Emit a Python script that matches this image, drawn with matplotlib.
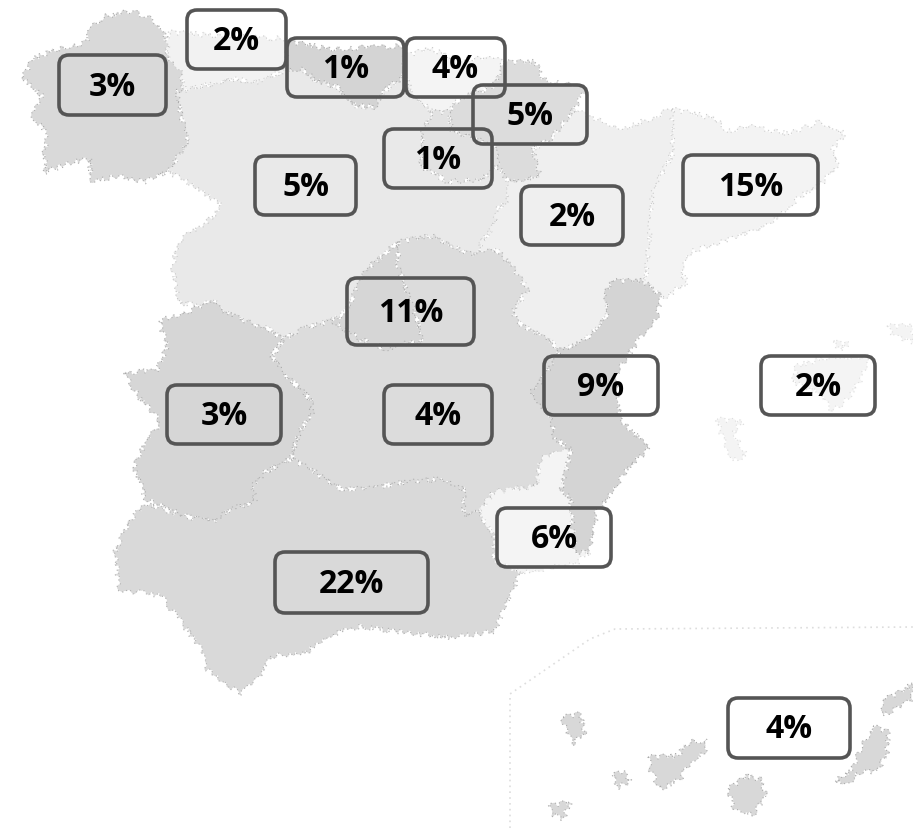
import matplotlib
matplotlib.use("Agg")
import matplotlib.pyplot as plt
from matplotlib.patches import FancyBboxPatch

# outlines, in image pixels
galicia = [(23,78),(33,60),(57,50),(88,43),(90,30),(103,18),(132,12),(153,20),(165,33),(168,57),(180,70),(184,90),(176,93),(187,143),(168,173),(145,183),(115,177),(92,183),(90,167),(92,160),(73,163),(46,173),(44,157),(48,137),(33,117),(42,97)]
asturias = [(168,33),(193,35),(240,38),(287,40),(287,70),(260,83),(230,80),(199,88),(184,90),(180,70),(168,57)]
cantabria = [(287,42),(329,50),(383,48),(404,47),(404,77),(383,93),(375,108),(356,107),(337,88),(314,80),(302,70),(287,70)]
pais_vasco = [(404,57),(429,50),(459,60),(498,60),(505,67),(494,87),(459,100),(448,113),(432,113),(417,100),(404,77)]
navarra = [(505,63),(536,63),(543,80),(586,90),(574,110),(551,140),(532,150),(540,177),(509,183),(498,167),(494,147),(471,137),(452,133),(448,113),(459,100),(494,87)]
la_rioja = [(432,113),(448,113),(452,133),(471,137),(494,147),(498,167),(482,180),(448,183),(421,167),(423,133)]
castilla_leon = [(176,93),(199,88),(230,80),(260,83),(287,70),(302,70),(314,80),(337,88),(356,107),(375,108),(383,93),(404,77),(417,100),(432,113),(423,133),(421,167),(448,183),(482,180),(498,167),(509,183),(509,200),(498,210),(494,227),(482,243),(474,257),(432,237),(398,243),(367,270),(345,313),(330,322),(303,330),(284,340),(268,330),(222,313),(215,303),(180,305),(172,267),(180,240),(203,227),(222,207),(195,187),(168,173),(187,143)]
madrid = [(398,243),(367,270),(345,313),(333,323),(360,340),(387,350),(400,345),(421,343),(418,323),(406,290),(398,267)]
castilla_mancha = [(398,243),(432,237),(474,257),(495,250),(510,265),(528,290),(513,313),(517,323),(552,343),(559,352),(552,367),(532,393),(552,420),(555,440),(571,450),(540,460),(536,487),(494,493),(479,513),(464,517),(464,490),(444,480),(406,483),(368,490),(341,490),(310,470),(291,460),(299,433),(312,413),(310,400),(280,370),(272,357),(284,340),(303,330),(330,322),(333,323),(360,340),(387,350),(400,345),(421,343),(418,323),(406,290),(398,267)]
extremadura = [(159,322),(167,347),(157,372),(123,373),(138,397),(161,423),(142,450),(134,467),(146,500),(184,517),(215,523),(230,510),(255,503),(253,487),(265,473),(291,460),(299,433),(312,413),(310,400),(280,370),(272,357),(284,340),(268,330),(222,313),(215,303)]
andalucia = [(291,460),(310,470),(341,490),(368,490),(406,483),(444,480),(464,490),(464,517),(479,513),(494,537),(494,563),(521,573),(509,600),(494,633),(448,638),(398,633),(360,627),(326,637),(307,653),(272,657),(261,677),(240,695),(207,670),(199,647),(184,627),(161,597),(119,590),(115,553),(131,520),(146,505),(184,517),(215,523),(230,510),(255,503),(253,487),(265,473)]
valencia = [(613,282),(643,282),(662,297),(657,317),(637,343),(617,373),(620,420),(650,450),(633,463),(613,490),(597,513),(590,553),(575,553),(571,500),(561,490),(571,450),(555,440),(552,420),(532,393),(552,367),(559,352),(590,337),(609,313),(605,293)]
murcia = [(494,493),(536,487),(540,460),(571,450),(561,490),(571,500),(575,553),(590,553),(575,565),(521,573),(494,563),(494,537),(479,513)]
aragon = [(672,110),(673,153),(653,193),(650,233),(647,273),(643,282),(613,282),(605,293),(609,313),(590,337),(559,352),(552,343),(517,323),(513,313),(528,290),(510,265),(495,250),(474,257),(482,243),(494,227),(498,210),(509,200),(509,183),(540,177),(532,150),(551,140),(574,110),(590,118),(625,130)]
cataluna = [(672,110),(717,120),(727,132),(753,128),(790,135),(820,122),(845,135),(833,150),(837,167),(823,183),(797,200),(767,227),(723,243),(690,253),(680,273),(687,283),(663,300),(643,282),(647,273),(650,233),(653,193),(673,153)]
mallorca = [(793,383),(797,367),(833,357),(867,360),(863,377),(847,400),(833,413),(817,393)]
menorca = [(887,327),(913,327),(913,343),(893,337)]
ibiza = [(717,420),(743,423),(733,433),(747,457),(733,460),(723,440)]
cabrera = [(833,343),(848,345),(840,350)]
la_palma = [(563,718),(580,715),(585,733),(573,745),(565,730)]
tenerife = [(648,758),(677,757),(690,742),(707,742),(707,750),(690,763),(680,780),(660,790),(650,770)]
gomera = [(612,777),(622,772),(630,783),(618,788)]
hierro = [(548,807),(570,803),(563,820),(552,815)]
gran_canaria = [(728,790),(747,777),(760,780),(767,797),(753,815),(733,808)]
fuerteventura = [(873,727),(888,733),(887,753),(878,773),(857,773),(850,783),(835,783),(853,770),(860,750)]
lanzarote = [(885,700),(907,690),(913,683),(913,700),(897,710),(883,715)]
inset_line = [(510,829),(510,695),(590,640),(615,630),(913,628)]

regions = [
    ("Castilla y León", [castilla_leon], "#e9e9e9", "#c4c4c4"),
    ("Aragón", [aragon], "#efefef", "#cccccc"),
    ("Cataluña", [cataluna], "#f3f3f3", "#cccccc"),
    ("Castilla-La Mancha", [castilla_mancha], "#dcdcdc", "#b0b0b0"),
    ("Madrid", [madrid], "#d6d6d6", "#b0b0b0"),
    ("Extremadura", [extremadura], "#d6d6d6", "#aaaaaa"),
    ("Andalucía", [andalucia], "#d9d9d9", "#b0b0b0"),
    ("Murcia", [murcia], "#f4f4f4", "#d4d4d4"),
    ("Valencia", [valencia], "#d4d4d4", "#aaaaaa"),
    ("Galicia", [galicia], "#d9d9d9", "#aaaaaa"),
    ("Asturias", [asturias], "#f2f2f2", "#cccccc"),
    ("Cantabria", [cantabria], "#d4d4d4", "#aaaaaa"),
    ("País Vasco", [pais_vasco], "#f4f4f4", "#c4c4c4"),
    ("Navarra", [navarra], "#dcdcdc", "#b0b0b0"),
    ("La Rioja", [la_rioja], "#e2e2e2", "#b0b0b0"),
    ("Baleares", [mallorca, menorca, ibiza, cabrera], "#f4f4f4", "#dddddd"),
    ("Canarias", [la_palma, tenerife, gomera, hierro, gran_canaria, fuerteventura, lanzarote], "#d8d8d8", "#a8a8a8"),
]

labels = ["3%", "2%", "1%", "4%", "5%", "1%", "5%", "2%", "15%", "11%", "9%", "2%", "3%", "4%", "6%", "22%", "4%"]
boxes = [(58,55,167,117), (186,10,287,71), (286,38,405,99), (405,38,506,99), (472,85,588,146),
         (383,129,493,190), (254,156,357,217), (520,186,624,247), (682,155,819,217), (346,278,475,347),
         (543,356,659,417), (760,356,876,417), (166,385,282,446), (383,385,493,446), (496,508,612,569),
         (274,552,429,615), (727,698,851,760)]

fig = plt.figure(figsize=(9.13, 8.29), dpi=100)
ax = fig.add_axes([0, 0, 1, 1])
ax.set_xlim(0, 913)
ax.set_ylim(829, 0)
ax.axis("off")

for name, parts, grey, edge in regions:
    for part in parts:
        xs, ys = zip(*part)
        patches = ax.fill(xs, ys, color=grey, ec=edge, lw=0.8, ls=(0, (1, 3)))
        patches[0].set_sketch_params(scale=2.5, length=14, randomness=30)

xs, ys = zip(*inset_line)
ax.plot(xs, ys, color="#dddddd", lw=1.2, ls=(0, (1, 2.5)))

for text, (x0, y0, x1, y1) in zip(labels, boxes):
    ax.add_patch(FancyBboxPatch((x0 + 1, y0 + 1), x1 - x0 - 2, y1 - y0 - 2,
                                boxstyle="round,pad=0,rounding_size=10",
                                fc="none", ec="#555555", lw=2.6, zorder=5))
    ax.text((x0 + x1) / 2, (y0 + y1) / 2 + 1, text, ha="center", va="center",
            family="Open Sans", weight="bold", fontsize=23, color="black", zorder=6)

fig.savefig("out.png", dpi=100)
